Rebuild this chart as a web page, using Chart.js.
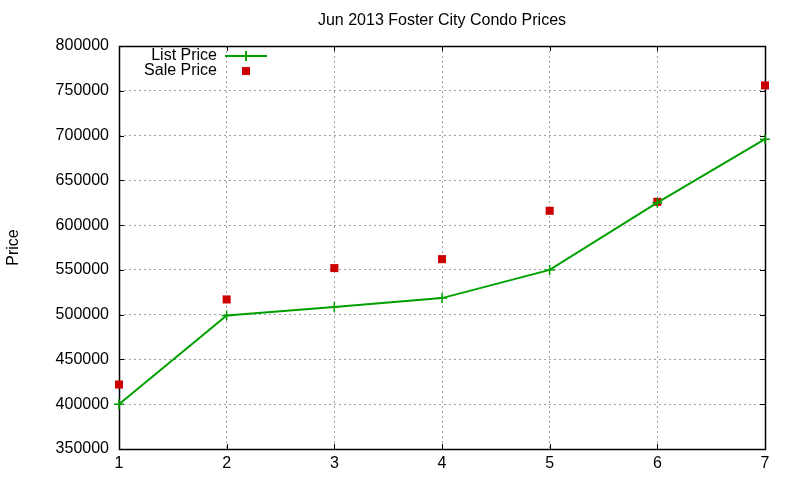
<!DOCTYPE html>
<html>
<head>
<meta charset="utf-8">
<script src="https://cdn.jsdelivr.net/npm/chart.js@4/dist/chart.umd.min.js"></script>
<style>
html,body{margin:0;padding:0;background:#fff;}
#wrap{width:800px;height:480px;}
</style>
</head>
<body>
<div id="wrap"><canvas id="c" width="800" height="480"></canvas></div>
<script>
const titleText = 'Jun 2013 Foster City Condo Prices';
const yAxisTitle = 'Price';
const xValues = [1, 2, 3, 4, 5, 6, 7];
const listPrice = [400000, 499000, 508500, 518500, 550000, 625000, 696000];
const salePrice = [422000, 517000, 552000, 562000, 616000, 626000, 756000];
const seriesLabels = ['List Price', 'Sale Price'];

const FONT = 'Liberation Sans, Arial, sans-serif';

const frame = {
  id: 'frame',
  beforeDatasetsDraw(chart) {
    const {ctx, chartArea: a, scales: {x, y}} = chart;
    ctx.save();
    ctx.strokeStyle = '#000';
    ctx.lineWidth = 1;
    const t = 5;
    ctx.beginPath();
    y.ticks.forEach(tk => {
      const py = Math.round(y.getPixelForValue(tk.value)) + 0.5;
      ctx.moveTo(a.left, py); ctx.lineTo(a.left + t, py);
      ctx.moveTo(a.right, py); ctx.lineTo(a.right - t, py);
    });
    x.ticks.forEach(tk => {
      const px = Math.round(x.getPixelForValue(tk.value)) + 0.5;
      ctx.moveTo(px, a.bottom); ctx.lineTo(px, a.bottom - t);
      ctx.moveTo(px, a.top); ctx.lineTo(px, a.top + t);
    });
    ctx.stroke();
    ctx.lineWidth = 1.5;
    ctx.strokeRect(Math.round(a.left) + 0.5, Math.round(a.top) + 0.5, Math.round(a.right - a.left), Math.round(a.bottom - a.top));
    ctx.restore();
  },
  afterDraw(chart) {
    const {ctx, chartArea: a} = chart;
    ctx.save();
    // title centred over the plot area
    ctx.font = '16px ' + FONT;
    ctx.fillStyle = '#000';
    ctx.textAlign = 'center';
    ctx.textBaseline = 'middle';
    ctx.fillText(titleText, (a.left + a.right) / 2, 21);
    // legend
    ctx.textAlign = 'right';
    const tx = a.left + 98;
    const sx = a.left + 127;
    const ds0 = chart.data.datasets[0];
    const ds1 = chart.data.datasets[1];
    const y0 = a.top + 10, y1 = a.top + 25;
    ctx.fillText(ds0.label, tx, y0);
    ctx.strokeStyle = ds0.borderColor;
    ctx.lineWidth = 2;
    ctx.beginPath();
    ctx.moveTo(a.left + 106, y0); ctx.lineTo(a.left + 148, y0);
    ctx.moveTo(sx, y0 - 5); ctx.lineTo(sx, y0 + 5);
    ctx.stroke();
    ctx.fillText(ds1.label, tx, y1);
    ctx.fillStyle = ds1.backgroundColor;
    ctx.fillRect(sx - 4, y1 - 4, 8, 8);
    ctx.restore();
  }
};

new Chart(document.getElementById('c'), {
  type: 'scatter',
  plugins: [frame],
  data: {
    datasets: [
      {
        label: seriesLabels[0],
        data: xValues.map((v, i) => ({x: v, y: listPrice[i]})),
        showLine: true,
        clip: false,
        borderColor: '#00a000',
        backgroundColor: '#00a000',
        borderWidth: 2,
        pointStyle: 'cross',
        pointRadius: 5,
        pointBorderWidth: 1.5,
        pointBorderColor: '#00a000'
      },
      {
        label: seriesLabels[1],
        data: xValues.map((v, i) => ({x: v, y: salePrice[i]})),
        showLine: false,
        clip: false,
        borderColor: '#cc0000',
        backgroundColor: '#cc0000',
        pointStyle: 'rect',
        pointRadius: 5.7,
        pointBorderWidth: 0
      }
    ]
  },
  options: {
    responsive: false,
    animation: false,
    devicePixelRatio: 1,
    layout: {padding: {left: 0, right: 35, top: 46, bottom: 0}},
    plugins: {
      legend: {display: false},
      tooltip: {enabled: false},
      title: {display: false}
    },
    scales: {
      x: {
        type: 'linear',
        min: 1, max: 7,
        afterFit(s) { s.height = 31; },
        ticks: {stepSize: 1, color: '#000', padding: 5, font: {family: FONT, size: 16}},
        grid: {color: '#a0a0a0', lineWidth: 1, drawTicks: false, tickLength: 0},
        border: {display: false, dash: [2, 3]}
      },
      y: {
        min: 350000, max: 800000,
        afterFit(s) { s.width = 119; },
        ticks: {
          stepSize: 50000, color: '#000', padding: 10, font: {family: FONT, size: 16},
          callback: v => String(v)
        },
        grid: {color: '#a0a0a0', lineWidth: 1, drawTicks: false, tickLength: 0},
        border: {display: false, dash: [2, 3]},
        title: {
          display: true,
          text: yAxisTitle,
          color: '#000',
          font: {family: FONT, size: 16},
          padding: {top: 4, bottom: 0}
        }
      }
    }
  }
});
</script>
</body>
</html>
